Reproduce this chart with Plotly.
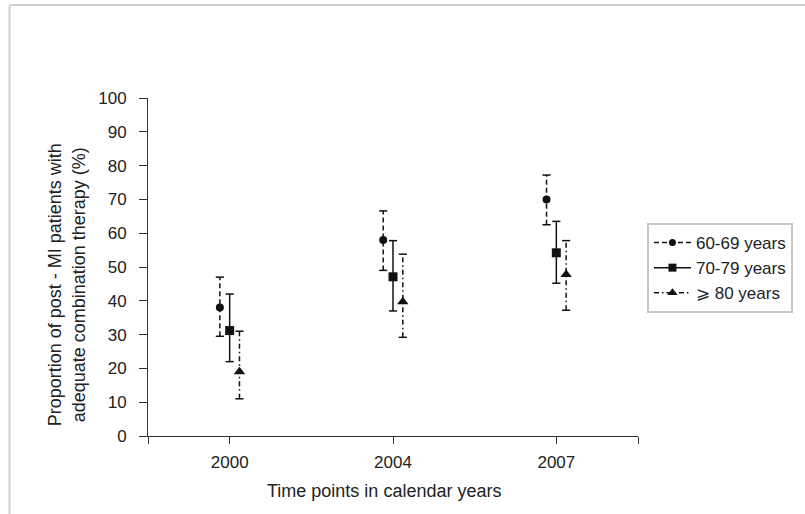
import plotly.graph_objects as go

# ---- data ----
years = ["2000", "2004", "2007"]
series_names = ["60-69 years", "70-79 years", "\u2a7e 80 years"]
p60 = [38.0, 58.0, 70.0]
lo60 = [29.5, 49.0, 62.5]
hi60 = [47.0, 66.6, 77.2]
p70 = [31.2, 47.1, 54.2]
lo70 = [22.0, 37.0, 45.2]
hi70 = [42.0, 57.8, 63.5]
p80 = [19.0, 39.7, 47.8]
lo80 = [11.0, 29.2, 37.2]
hi80 = [31.0, 53.8, 57.8]
y_ticks = list(range(0, 101, 10))

# ---- styles ----
FONT = "Liberation Sans, Arial, Helvetica, sans-serif"
INK = "#111111"
TXT = "#222222"
offsets = [-0.06, 0.0, 0.06]
symbols = ["circle", "square", "triangle-up"]
msizes = [8, 9, 10]
dashes = ["5px,3px", "solid", "5px,3px,1.5px,3px"]
cap = 0.025

fig = go.Figure()
series = [(p60, lo60, hi60), (p70, lo70, hi70), (p80, lo80, hi80)]
xs = list(range(len(years)))
for k, (p, lo, hi) in enumerate(series):
    xk = [x + offsets[k] for x in xs]
    vx, vy, cx, cy = [], [], [], []
    for x, l, h in zip(xk, lo, hi):
        vx += [x, x, None]
        vy += [l, h, None]
        cx += [x - cap, x + cap, None, x - cap, x + cap, None]
        cy += [h, h, None, l, l, None]
    fig.add_trace(go.Scatter(x=vx, y=vy, mode="lines", showlegend=False,
                             line=dict(color=INK, width=1.5, dash=dashes[k]),
                             hoverinfo="skip"))
    fig.add_trace(go.Scatter(x=cx, y=cy, mode="lines", showlegend=False,
                             line=dict(color=INK, width=1.5), hoverinfo="skip"))
    fig.add_trace(go.Scatter(x=xk, y=p, mode="markers", showlegend=False,
                             marker=dict(symbol=symbols[k], size=msizes[k], color=INK)))
    # legend entry
    fig.add_trace(go.Scatter(x=[None], y=[None], mode="lines+markers",
                             name=series_names[k],
                             line=dict(color=INK, width=1.5, dash=dashes[k]),
                             marker=dict(symbol=symbols[k], size=msizes[k] - 1, color=INK)))

L, R, T, B = 148, 165, 98, 78
W, H = 805, 514
pw, ph = W - L - R, H - T - B

def px_x(px):
    return (px - L) / pw

def px_y(py):
    return (H - B - py) / ph

fig.update_layout(
    width=W, height=H,
    margin=dict(l=L, r=R, t=T, b=B),
    paper_bgcolor="white", plot_bgcolor="white",
    font=dict(family=FONT, size=17, color=TXT),
    showlegend=True,
    legend=dict(x=px_x(649), y=px_y(223), xanchor="left", yanchor="top",
                bordercolor="#c8c8c8", borderwidth=2, bgcolor="white",
                font=dict(family=FONT, size=17, color=TXT),
                tracegroupgap=0, itemwidth=37),
    xaxis=dict(range=[-0.5, 2.5], tickmode="array",
               tickvals=[-0.5] + xs + [2.5], ticktext=[""] + years + [""],
               showline=True, linecolor="#333333", linewidth=1,
               ticks="outside", ticklen=7, tickcolor="#333333",
               showgrid=False, zeroline=False, ticklabelstandoff=4,
               tickfont=dict(family=FONT, size=17, color=TXT)),
    yaxis=dict(range=[0, 100], tickmode="array", tickvals=y_ticks,
               showline=True, linecolor="#333333", linewidth=1,
               ticks="outside", ticklen=8, tickcolor="#333333",
               showgrid=False, zeroline=False, ticklabelstandoff=9,
               tickfont=dict(family=FONT, size=17, color=TXT)),
    annotations=[
        dict(text="Proportion of post - MI patients with<br>adequate combination therapy (%)",
             x=px_x(66), y=px_y(285), xref="paper", yref="paper",
             xanchor="center", yanchor="middle",
             textangle=-90, showarrow=False, font=dict(family=FONT, size=18, color=TXT)),
        dict(text="Time points in calendar years",
             x=px_x(385), y=px_y(491), xref="paper", yref="paper",
             xanchor="center", yanchor="middle",
             showarrow=False, font=dict(family=FONT, size=18, color=TXT)),
    ],
    shapes=[
        dict(type="line", xref="paper", yref="paper", x0=px_x(9), x1=px_x(9),
             y0=px_y(5), y1=px_y(540), line=dict(color="#d0d0d0", width=2), layer="below"),
        dict(type="line", xref="paper", yref="paper", x0=px_x(9), x1=px_x(830),
             y0=px_y(5), y1=px_y(5), line=dict(color="#d0d0d0", width=2), layer="below"),
    ],
)

fig.write_html("out.html", config={"displayModeBar": False},
               post_script="document.body.style.margin='0px';document.body.style.overflow='hidden';")
